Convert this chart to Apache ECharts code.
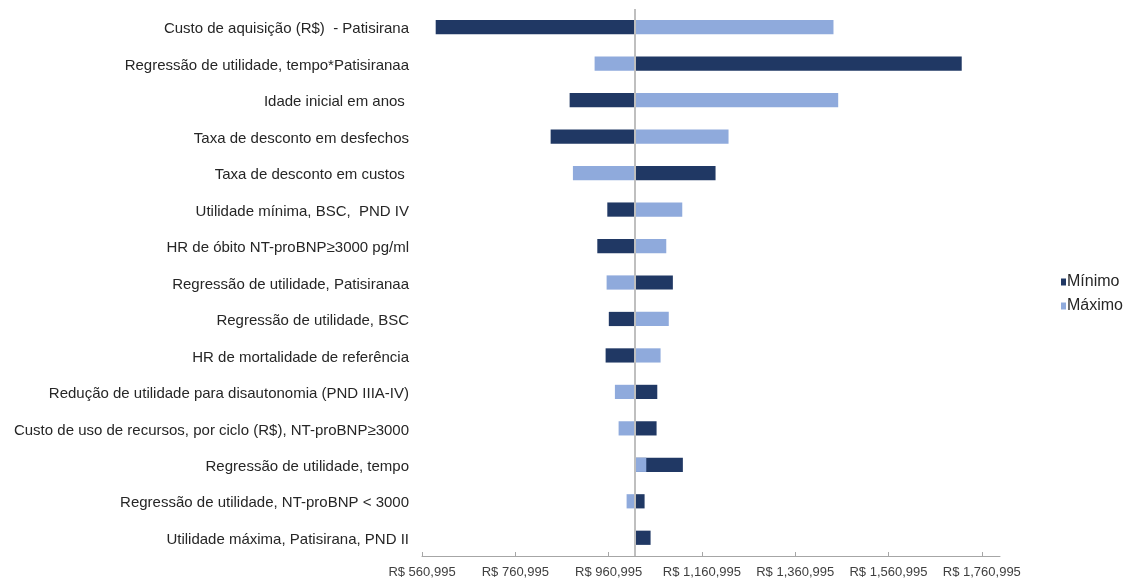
<!DOCTYPE html>
<html>
<head>
<meta charset="utf-8">
<title>Análise de sensibilidade — tornado</title>
<script src="https://cdn.jsdelivr.net/npm/echarts@6/dist/echarts.min.js"></script>
<style>
  html, body { margin: 0; padding: 0; background: #fff; }
  #chart { width: 1130px; height: 583px; }
</style>
</head>
<body>
<div id="chart"></div>
<script>
// Parameters of the one-way sensitivity analysis, top to bottom
const categories = [
  'Custo de aquisição (R$)  - Patisirana',
  'Regressão de utilidade, tempo*Patisiranaa',
  'Idade inicial em anos ',
  'Taxa de desconto em desfechos',
  'Taxa de desconto em custos ',
  'Utilidade mínima, BSC,  PND IV',
  'HR de óbito NT-proBNP≥3000 pg/ml',
  'Regressão de utilidade, Patisiranaa',
  'Regressão de utilidade, BSC',
  'HR de mortalidade de referência',
  'Redução de utilidade para disautonomia (PND IIIA-IV)',
  'Custo de uso de recursos, por ciclo (R$), NT-proBNP≥3000',
  'Regressão de utilidade, tempo',
  'Regressão de utilidade, NT-proBNP < 3000',
  'Utilidade máxima, Patisirana, PND II'
];

// Base-case result (R$) where the bars start
const baseValue = 1017350;

// Result with each parameter at its lower bound
const minimo = [
  590350, 1717950, 877450, 836750, 1190250,
  958220, 936790, 1098750, 961430, 954570,
  1065350, 1063840, 1120190, 1038130, 1050990
];

// Result with each parameter at its upper bound
const maximo = [
  1443050, 931000, 1453150, 1218100, 884500,
  1118900, 1084620, 956720, 1089980, 1072410,
  974500, 982430, 1041770, 999570, 1017350
];

// Value-axis ticks
const tickValues = [560995, 760995, 960995, 1160995, 1360995, 1560995, 1760995];
const axisMin = 560995;
const axisMax = 1800000;

const FONT = "'Liberation Sans', Arial, sans-serif";

function fmtMoney(v) {
  return 'R$ ' + String(Math.round(v)).replace(/\B(?=(\d{3})+(?!\d))/g, ',');
}

// Each bar runs from the base-case value to the series value
function renderBar(params, api) {
  const idx = api.value(0);
  const v = api.value(1);
  const p0 = api.coord([baseValue, idx]);
  const p1 = api.coord([v, idx]);
  const h = api.size([0, 1])[1] * 0.39;
  return {
    type: 'rect',
    shape: {
      x: Math.min(p0[0], p1[0]),
      y: p0[1] - h / 2,
      width: Math.abs(p1[0] - p0[0]),
      height: h
    },
    style: api.style()
  };
}

const toPairs = arr => arr.map((v, i) => [i, v]);

const chart = echarts.init(document.getElementById('chart'), null, { renderer: 'canvas' });

chart.setOption({
  animation: false,
  backgroundColor: '#ffffff',
  textStyle: { fontFamily: FONT },
  grid: { left: 422, right: 130, top: 9, bottom: 27 },
  legend: {
    orient: 'vertical',
    left: 1056,
    top: 269,
    icon: 'rect',
    itemWidth: 5,
    itemHeight: 7,
    itemGap: 8,
    textStyle: { fontFamily: FONT, fontSize: 16, color: '#262626', padding: [0, 0, 0, -4] },
    data: ['Mínimo', 'Máximo']
  },
  xAxis: {
    type: 'value',
    min: axisMin,
    max: axisMax,
    splitLine: { show: false },
    axisLine: { show: true, lineStyle: { color: '#a6a6a6', width: 1 } },
    axisTick: {
      show: true,
      inside: true,
      length: 4,
      customValues: tickValues,
      lineStyle: { color: '#a6a6a6' }
    },
    axisLabel: {
      customValues: tickValues,
      formatter: v => fmtMoney(v),
      fontFamily: FONT,
      fontSize: 13,
      color: '#404040',
      margin: 10
    }
  },
  yAxis: {
    type: 'category',
    data: categories,
    inverse: true,
    axisLine: { show: false },
    axisTick: { show: false },
    splitLine: { show: false },
    axisLabel: {
      fontFamily: FONT,
      fontSize: 15,
      color: '#262626',
      margin: 13,
      formatter: v => '{c|' + v + '}',
      rich: {
        c: {
          fontFamily: FONT,
          fontSize: 15,
          color: '#262626',
          padding: [4, 0, 0, 0]
        }
      }
    }
  },
  series: [
    {
      name: 'Mínimo',
      type: 'custom',
      renderItem: renderBar,
      encode: { x: 1, y: 0 },
      itemStyle: { color: '#203864' },
      data: toPairs(minimo),
      z: 2,
      markLine: {
        silent: true,
        symbol: 'none',
        label: { show: false },
        lineStyle: { color: '#bfbfbf', width: 2, type: 'solid' },
        data: [{ xAxis: baseValue }],
        z: 5
      }
    },
    {
      name: 'Máximo',
      type: 'custom',
      renderItem: renderBar,
      encode: { x: 1, y: 0 },
      itemStyle: { color: '#8faadc' },
      data: toPairs(maximo),
      z: 3
    }
  ]
});
</script>
</body>
</html>
